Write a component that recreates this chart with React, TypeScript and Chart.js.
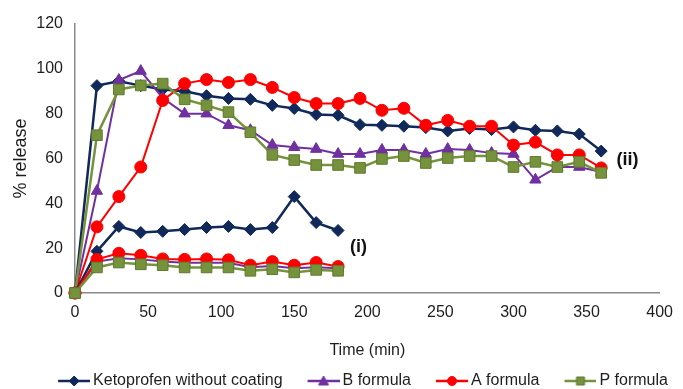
import React, { useEffect, useRef } from 'react';
import { Chart, registerables } from 'chart.js';

Chart.register(...registerables);

// ---- data ----
const timesLong = [0, 15, 30, 45, 60, 75, 90, 105, 120, 135, 150, 165, 180, 195, 210, 225, 240, 255, 270, 285, 300, 315, 330, 345, 360];
const timesShort = [0, 15, 30, 45, 60, 75, 90, 105, 120, 135, 150, 165, 180];

// (ii) upper curves
const ketoUpper = [0, 92.5, 94.5, 92.5, 90.8, 90, 88, 86.8, 86.4, 83.7, 82.3, 79.6, 79.3, 75.1, 74.8, 74.4, 73.8, 72.3, 73.4, 72.9, 74.1, 72.6, 72.3, 70.9, 63.3];
const bUpper = [0, 45.5, 95, 99, 87, 80, 80, 74.8, 72.6, 66, 65, 64.2, 62, 62, 63.8, 63.8, 62, 64.2, 63.8, 62.4, 62, 50.5, 56.2, 56.2, 54];
const aUpper = [0, 29.5, 43, 56.2, 85.9, 93.4, 95.2, 93.9, 95.2, 91.7, 87.2, 84.5, 84.5, 86.8, 81.5, 82.4, 74.8, 77, 74.4, 74.4, 66, 67.3, 61.6, 61.6, 55.8];
const pUpper = [0, 70.4, 90.8, 92.6, 93.4, 86.4, 83.7, 80.7, 71.7, 61.6, 59.3, 57.1, 57.1, 55.8, 59.8, 61.1, 58, 60.2, 61.1, 61.1, 56.2, 58.5, 56.2, 58.5, 53.6];

// (i) lower curves
const ketoLower = [0, 18.6, 29.7, 27, 27.5, 28.3, 29.2, 29.7, 28.3, 29.2, 43, 31.4, 27.9];
const bLower = [0, 14, 15.5, 15, 14, 13.5, 13.5, 13.5, 11.5, 12, 11, 11.5, 11];
const aLower = [0, 15, 17.7, 16.8, 15.2, 15, 15.2, 14.8, 12.4, 14, 12.4, 13.6, 11.8];
const pLower = [0, 11.4, 13.6, 12.8, 12.4, 11.4, 11.4, 11.4, 9.9, 10.6, 9.2, 10.3, 9.9];

const seriesNames = ['Ketoprofen without coating', 'B formula', 'A formula', 'P formula'];
const xTicks = [0, 50, 100, 150, 200, 250, 300, 350, 400];
const yTicks = [0, 20, 40, 60, 80, 100, 120];
const curveTags = [
  { text: '(i)', x: 194, y: 20.5 },
  { text: '(ii)', x: 378, y: 59.5 },
];

// ---- styles ----
const FONT = '"Liberation Sans", Arial, sans-serif';
const TEXT = '#1e1e1e';
const AXIS = '#8a8a8a';

const styles = [
  { line: '#10295a', fill: '#10295a', border: '#10295a', shape: 'rectRot', radius: 6, width: 2.5 },
  { line: '#7030a0', fill: '#7030a0', border: '#7030a0', shape: 'triangle', radius: 6.5, width: 2 },
  { line: '#ff0000', fill: '#ff0000', border: '#ff0000', shape: 'circle', radius: 6, width: 2 },
  { line: '#76923c', fill: '#76923c', border: '#5f7a2c', shape: 'rect', radius: 7.5, width: 2.5 },
];

function makeIcon(s: any) {
  const c = document.createElement('canvas');
  c.width = 52;
  c.height = 14;
  const ctx = c.getContext('2d')!;
  ctx.strokeStyle = s.line;
  ctx.lineWidth = 2.5;
  ctx.beginPath();
  ctx.moveTo(20, 7);
  ctx.lineTo(52, 7);
  ctx.stroke();
  const cx = 36;
  const cy = 7;
  ctx.fillStyle = s.fill;
  ctx.strokeStyle = s.border;
  ctx.lineWidth = 1;
  ctx.beginPath();
  if (s.shape === 'rectRot') {
    ctx.moveTo(cx, cy - 5);
    ctx.lineTo(cx + 5, cy);
    ctx.lineTo(cx, cy + 5);
    ctx.lineTo(cx - 5, cy);
    ctx.closePath();
  } else if (s.shape === 'triangle') {
    ctx.moveTo(cx, cy - 5);
    ctx.lineTo(cx + 5, cy + 4);
    ctx.lineTo(cx - 5, cy + 4);
    ctx.closePath();
  } else if (s.shape === 'circle') {
    ctx.arc(cx, cy, 4.5, 0, Math.PI * 2);
  } else {
    ctx.rect(cx - 4, cy - 4, 8, 8);
  }
  ctx.fill();
  ctx.stroke();
  return c;
}

function ds(idx: number, xs: number[], ys: number[], order: number, withLabel: boolean) {
  const s = styles[idx];
  return {
    label: withLabel ? seriesNames[idx] : seriesNames[idx] + ' (i)',
    data: xs.map((x, i) => ({ x, y: ys[i] })),
    borderColor: s.line,
    backgroundColor: s.fill,
    pointBackgroundColor: s.fill,
    pointBorderColor: s.border,
    pointBorderWidth: 1,
    pointStyle: s.shape,
    pointRadius: s.radius,
    borderWidth: s.width,
    tension: 0,
    clip: false as any,
    order,
  };
}

const tagPlugin = {
  id: 'curveTags',
  afterDatasetsDraw(chart: any) {
    const { ctx, scales } = chart;
    ctx.save();
    ctx.font = `bold 18px ${FONT}`;
    ctx.fillStyle = '#111111';
    ctx.textAlign = 'center';
    ctx.textBaseline = 'middle';
    curveTags.forEach((t) => {
      ctx.fillText(t.text, scales.x.getPixelForValue(t.x), scales.y.getPixelForValue(t.y));
    });
    ctx.restore();
  },
};

export default function App() {
  const ref = useRef<HTMLCanvasElement | null>(null);

  useEffect(() => {
    document.body.style.margin = '0';
    const icons = styles.map(makeIcon);
    const chart = new Chart(ref.current!, {
      type: 'line',
      data: {
        datasets: [
          ds(0, timesLong, ketoUpper, 8, true),
          ds(1, timesLong, bUpper, 7, true),
          ds(2, timesLong, aUpper, 6, true),
          ds(3, timesLong, pUpper, 5, true),
          ds(0, timesShort, ketoLower, 4, false),
          ds(1, timesShort, bLower, 3, false),
          ds(2, timesShort, aLower, 2, false),
          ds(3, timesShort, pLower, 1, false),
        ] as any,
      },
      options: {
        animation: false,
        responsive: false,
        layout: { padding: { top: 24, left: 28, right: 0, bottom: -10 } },
        scales: {
          x: {
            type: 'linear',
            min: 0,
            max: 400,
            afterBuildTicks: (s: any) => {
              s.ticks = xTicks.map((v) => ({ value: v }));
            },
            afterFit: (s: any) => {
              s.height = 70;
            },
            grid: { display: false, drawTicks: false },
            border: { display: true, color: AXIS, width: 1.5 },
            ticks: { font: { family: FONT, size: 16 }, color: TEXT, padding: 10, maxRotation: 0, autoSkip: false },
            title: {
              display: true,
              text: 'Time (min)',
              font: { family: FONT, size: 16 },
              color: TEXT,
              padding: { top: 0, bottom: 3 },
            },
          },
          y: {
            min: 0,
            max: 120,
            afterBuildTicks: (s: any) => {
              s.ticks = yTicks.map((v) => ({ value: v }));
            },
            afterFit: (s: any) => {
              s.width = 47;
            },
            grid: { display: false, drawTicks: false },
            border: { display: true, color: AXIS, width: 1.5 },
            ticks: { font: { family: FONT, size: 16 }, color: TEXT, padding: 12, autoSkip: false },
            title: {
              display: true,
              text: '% release',
              font: { family: FONT, size: 18 },
              color: TEXT,
              padding: { top: -18, bottom: 0 },
            },
          },
        } as any,
        plugins: {
          tooltip: { enabled: false },
          legend: {
            position: 'bottom',
            fullSize: true,
            reverse: true,
            labels: {
              usePointStyle: true,
              pointStyleWidth: 42,
              padding: 10,
              color: TEXT,
              font: { family: FONT, size: 16 },
              filter: (item: any) => item.datasetIndex < 4,
              generateLabels: (c: any) => {
                const base = (Chart.defaults as any).plugins.legend.labels.generateLabels(c);
                return base.map((it: any) => ({ ...it, pointStyle: icons[it.datasetIndex % 4], lineWidth: 0 }));
              },
            },
          },
        },
      } as any,
      plugins: [tagPlugin],
    });
    return () => chart.destroy();
  }, []);

  return (
    <div style={{ width: 683, height: 389 }}>
      <canvas ref={ref} width={683} height={389} style={{ width: 683, height: 389 }} />
    </div>
  );
}
